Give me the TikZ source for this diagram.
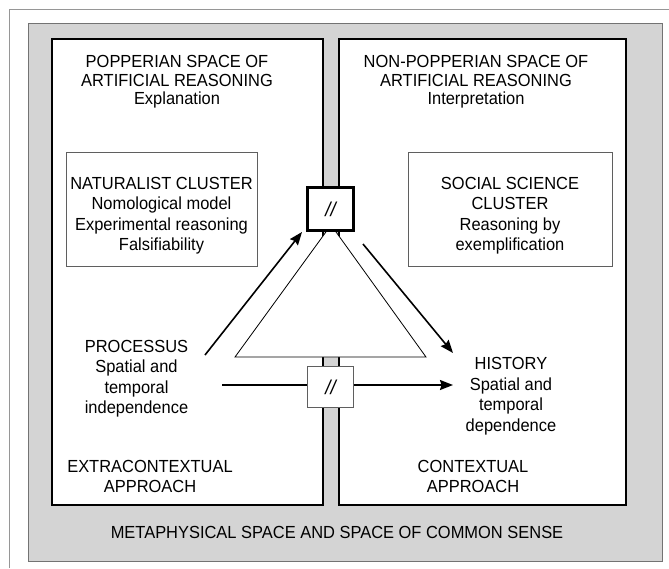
\documentclass[tikz,border=0pt]{standalone}
\usepackage{fontspec}
\setmainfont{Liberation Sans}[FakeStretch=0.94]
\usetikzlibrary{arrows.meta}
\definecolor{panelgray}{RGB}{212,212,212}
\definecolor{framegray}{RGB}{150,150,150}
\definecolor{boxgray}{RGB}{95,95,95}
\begin{document}
\begin{tikzpicture}[x=1pt,y=-1pt,
  lbl/.style={inner sep=0pt, align=center, font=\fontsize{17.5}{18.5}\selectfont},
  lblwide/.style={lbl, font=\fontsize{17.5}{20.5}\selectfont},
  space/.style={draw=black, line width=1.8pt, fill=white},
  cluster/.style={draw=boxgray, line width=1pt, fill=white},
  gate/.style={draw=black, fill=white, inner sep=0pt, minimum width=46pt,
    font=\fontsize{20}{20}\selectfont\itshape},
  arr/.style={line width=1.6pt, -{Stealth[length=13pt,width=10pt,inset=1.5pt]}}
]
\useasboundingbox (0,0) rectangle (669,568);

% outer frame
\draw[framegray, line width=1pt] (9,568) -- (9,9) -- (669,9);

% metaphysical space
\draw[fill=panelgray, draw=black!55, line width=1pt] (28,23) rectangle (662,561);

% the two spaces of artificial reasoning
\draw[space] (52,39) rectangle (323,505);
\draw[space] (339,39) rectangle (626,505);

% clusters
\draw[cluster] (66,152) rectangle (257,266);
\draw[cluster] (408,152) rectangle (612,266);

% triangle
\draw[fill=white, line width=0.8pt] (331,225) -- (235,357) -- (426,357) -- cycle;

% titles
\node[lbl] (popper) at (177,82) {POPPERIAN SPACE OF\\ARTIFICIAL REASONING\\Explanation};
\node[lbl] (nonpopper) at (476,82) {NON-POPPERIAN SPACE OF\\ARTIFICIAL REASONING\\Interpretation};

\node[lblwide] (natural) at (161.5,215.5) {NATURALIST CLUSTER\\Nomological model\\Experimental reasoning\\Falsifiability};
\node[lblwide] (social) at (510,215.5) {SOCIAL SCIENCE\\CLUSTER\\Reasoning by\\exemplification};

\node[lblwide] (processus) at (136.5,378.5) {PROCESSUS\\Spatial and\\temporal\\independence};
\node[lblwide] (history) at (511,396) {HISTORY\\Spatial and\\temporal\\dependence};

\node[lblwide] (extra) at (150,476.5) {EXTRACONTEXTUAL\\APPROACH};
\node[lblwide] (contextual) at (473,476.5) {CONTEXTUAL\\APPROACH};

\node[lbl] (meta) at (337,532) {METAPHYSICAL SPACE AND SPACE OF COMMON SENSE};

% connector end points
\coordinate (upstart) at (205,355);
\coordinate (upend) at (302,232);
\coordinate (downstart) at (363,244);
\coordinate (downend) at (453,353);
\coordinate (hstart) at (222,385);
\coordinate (hend) at (453,385);

\draw[arr] (hstart) -- (hend);
\draw[arr] (upstart) -- (upend);
\draw[arr] (downstart) -- (downend);

% separation gates
\node[gate, line width=3pt, minimum height=43pt] (gatetop) at (330.5,209) {//};
\node[gate, line width=1pt, draw=boxgray, minimum height=41pt] (gatelow) at (330.5,387) {//};
\end{tikzpicture}
\end{document}
